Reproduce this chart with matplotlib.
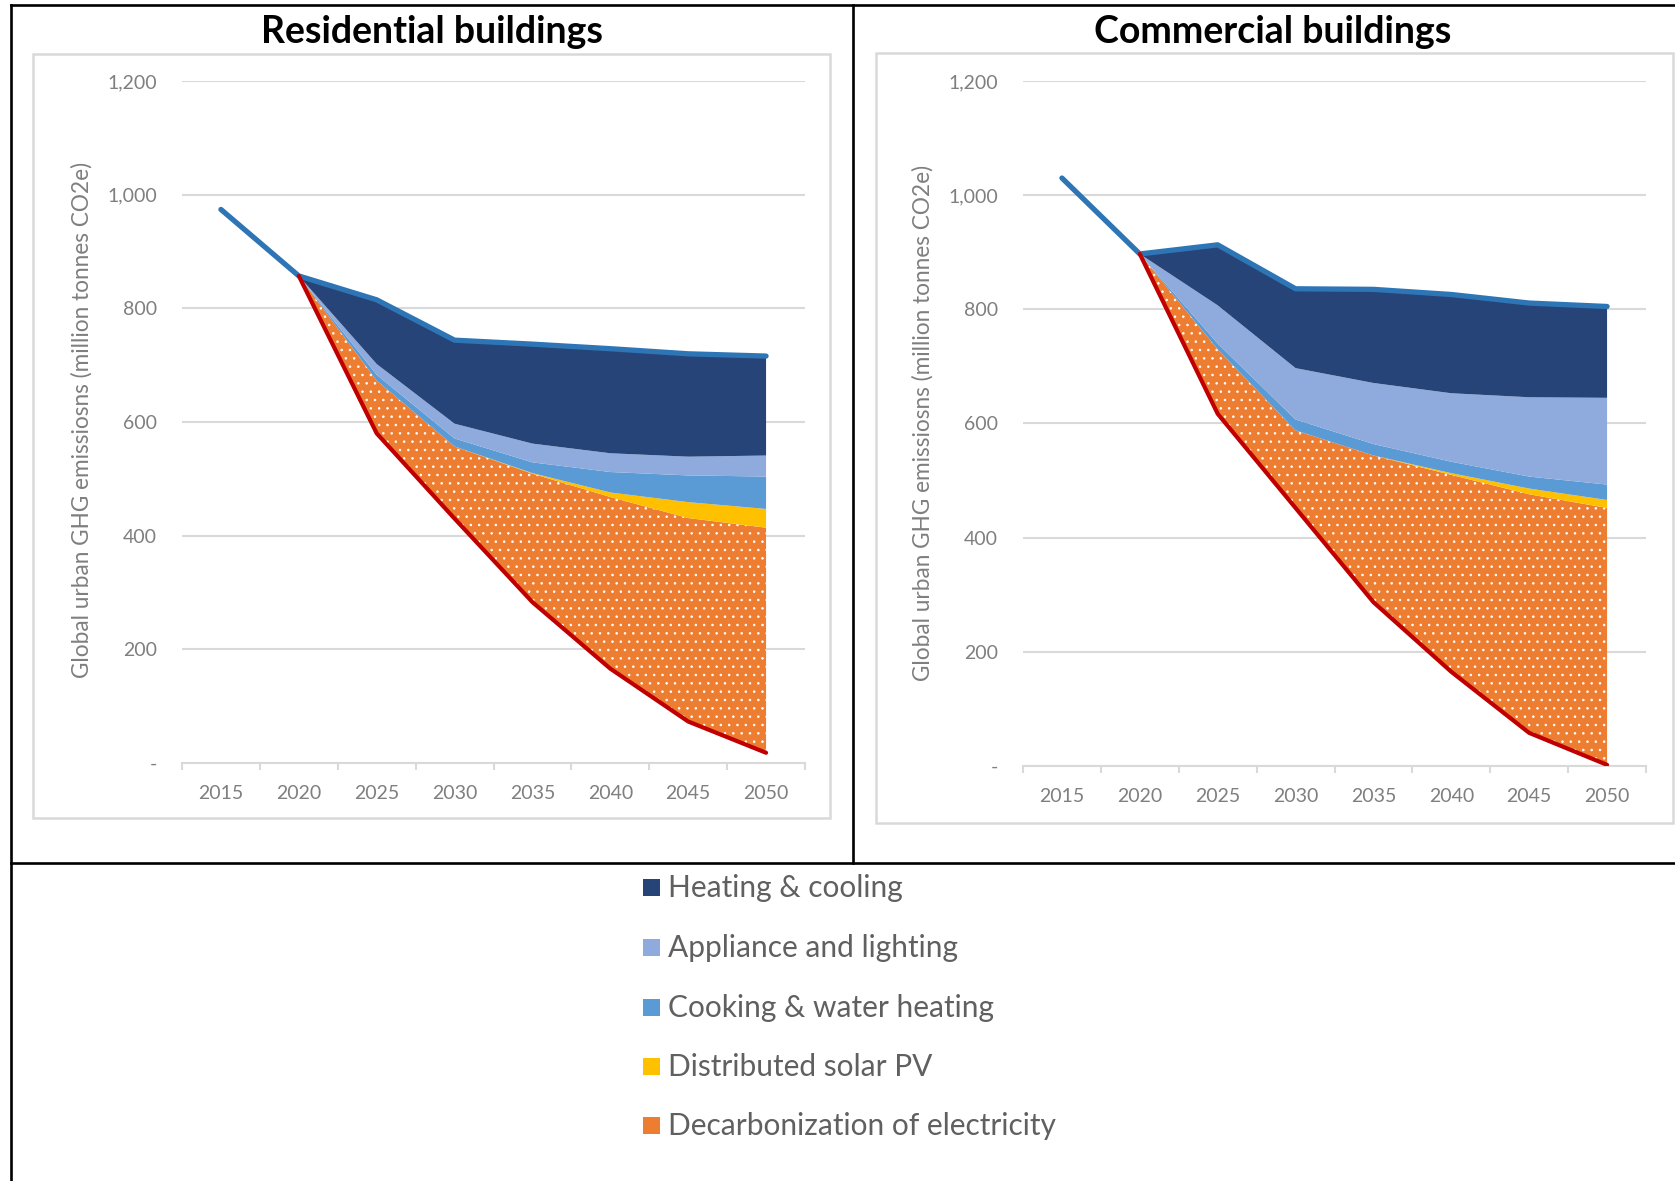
#urban building emissions - wedges chart
#residential vs commercial buildings, stacked area with reference lines

import numpy as np
import matplotlib
matplotlib.use('Agg')
import matplotlib.pyplot as plt
from matplotlib.patches import Rectangle
from matplotlib.lines import Line2D
from matplotlib.ticker import FixedLocator, FuncFormatter

plt.rcParams['font.family'] = ['Lato', 'DejaVu Sans']
plt.rcParams['hatch.linewidth'] = 0.6

years = ['2015', '2020', '2025', '2030', '2035', '2040', '2045', '2050']

series_names = ['Heating & cooling', 'Appliance and lighting', 'Cooking & water heating',
                'Distributed solar PV', 'Decarbonization of electricity']
series_colors = ['#264478', '#8FAADC', '#5B9BD5', '#FFC000', '#ED7D31']

#residential (million tonnes CO2e), stacks start in 2020
res_total = [974, 857, 815, 744, 737, 729, 720, 716]
res_remaining = [857, 580, 430, 283, 166, 73, 18]
res_decarb = [0, 93, 127, 226, 302, 358, 396]
res_solar = [0, 0, 0, 1, 8, 28, 33]
res_cooking = [0, 10, 14, 19, 36, 47, 57]
res_appliance = [0, 19, 26, 33, 33, 33, 37]
res_heating = [0, 113, 147, 175, 184, 181, 175]

#commercial
com_total = [1030, 897, 913, 836, 835, 826, 811, 805]
com_remaining = [897, 617, 452, 287, 165, 58, 2]
com_decarb = [0, 113, 136, 257, 345, 418, 450]
com_solar = [0, 0, 0, 0, 3, 10, 14]
com_cooking = [0, 10, 19, 20, 20, 21, 27]
com_appliance = [0, 67, 90, 107, 120, 139, 152]
com_heating = [0, 106, 139, 164, 173, 165, 160]

W, H = 1675, 1181
fig = plt.figure(figsize=(W / 100, H / 100), dpi=100)

def fx(px):
    return px / W

def fy(py):
    return 1 - py / H

tick_grey = '#7f7f7f'
grid_grey = '#d9d9d9'


def draw_panel(rect, total, remaining, stacks, title, title_x, ylab_x, ylab_y):
    ax = fig.add_axes(rect)
    ax.patch.set_alpha(0)
    x = np.arange(len(years))
    xs = x[1:]
    cum = np.array(remaining, dtype=float)
    # bottom -> top: decarb, solar, cooking, appliance, heating
    order = [4, 3, 2, 1, 0]
    for k, vals in zip(order, stacks):
        top = cum + np.array(vals, dtype=float)
        if k == 4:
            ax.fill_between(xs, cum, top, facecolor=series_colors[k], edgecolor='white',
                            hatch='..', linewidth=0, zorder=2)
        else:
            ax.fill_between(xs, cum, top, facecolor=series_colors[k], linewidth=0, zorder=2)
        cum = top
    ax.plot(x, total, color='#2E75B6', lw=3.8, solid_capstyle='round', zorder=4)
    ax.plot(xs, remaining, color='#C00000', lw=3.0, solid_capstyle='round', zorder=4)

    ax.set_xlim(-0.5, len(years) - 0.5)
    ax.set_ylim(0, 1200)
    ax.set_axisbelow(True)
    ax.yaxis.set_major_locator(FixedLocator(np.arange(0, 1201, 200)))
    ax.yaxis.set_major_formatter(FuncFormatter(lambda v, p: '-' if v == 0 else '{:,.0f}'.format(v)))
    ax.grid(axis='y', color=grid_grey, lw=1.5)
    ax.set_xticks(x)
    ax.set_xticklabels(years)
    ax.set_xticks(np.arange(-0.5, len(years)), minor=True)
    ax.tick_params(axis='x', which='major', length=0, pad=15.5, labelsize=14, labelcolor=tick_grey)
    ax.tick_params(axis='x', which='minor', length=5, width=1.5, color=grid_grey, direction='out')
    ax.tick_params(axis='y', length=0, pad=18, labelsize=14, labelcolor=tick_grey)
    for s in ['top', 'right', 'left']:
        ax.spines[s].set_visible(False)
    ax.spines['bottom'].set_color(grid_grey)
    ax.spines['bottom'].set_linewidth(1.5)

    fig.text(fx(title_x), fy(32), title, ha='center', va='center',
             fontsize=27, fontweight='bold', color='black')
    fig.text(fx(ylab_x), fy(ylab_y), 'Global urban GHG emissiosns (million tonnes CO2e)',
             rotation=90, ha='center', va='center', fontsize=16.3, color=tick_grey)
    return ax


#chart area boxes
for (x0, y0, x1, y1) in [(33, 54, 830, 818), (876, 53, 1673, 823)]:
    fig.patches.append(Rectangle((fx(x0), fy(y1)), fx(x1 - x0), (y1 - y0) / H,
                                 transform=fig.transFigure, facecolor='none',
                                 edgecolor=grid_grey, lw=1.8, zorder=0))

draw_panel([fx(182), fy(763), fx(623), 682 / H], res_total, res_remaining,
           [res_decarb, res_solar, res_cooking, res_appliance, res_heating],
           'Residential buildings', 432, 82, 420)
draw_panel([fx(1023), fy(766), fx(623), 685 / H], com_total, com_remaining,
           [com_decarb, com_solar, com_cooking, com_appliance, com_heating],
           'Commercial buildings', 1273, 923, 423)

#table borders
for (xa, ya, xb, yb) in [(11, 5, 1675, 5), (11, 5, 11, 1181), (853, 5, 853, 863), (11, 863, 1675, 863)]:
    fig.add_artist(Line2D([fx(xa), fx(xb)], [fy(ya), fy(yb)], color='black', lw=1.9,
                          transform=fig.transFigure))

#legend
row_y = [888, 948, 1008, 1067, 1126]
for name, col, ry in zip(series_names, series_colors, row_y):
    fig.patches.append(Rectangle((fx(643), fy(ry + 7.5)), fx(17), 17 / H,
                                 transform=fig.transFigure, facecolor=col, lw=0))
    fig.text(fx(668), fy(ry), name, ha='left', va='center', fontsize=21.5, color='#606060')

fig.savefig('out.png', dpi=100)
